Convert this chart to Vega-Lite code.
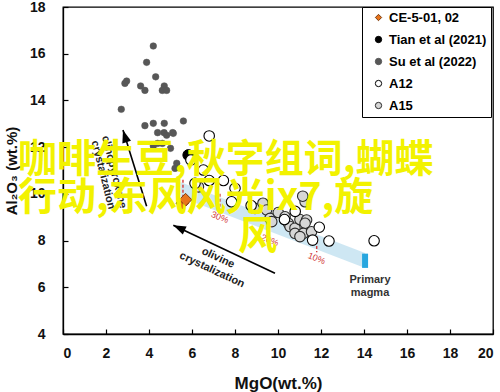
{
  "$schema": "https://vega.github.io/schema/vega-lite/v6.json",
  "width": 430,
  "height": 327,
  "autosize": {"type": "none"},
  "padding": {"left": 63, "top": 7, "right": 7, "bottom": 58},
  "background": "white",
  "config": {
    "view": {"stroke": "black", "strokeWidth": 1.3},
    "font": "Arial",
    "axis": {
      "domainColor": "black", "domainWidth": 1.3, "tickColor": "black", "tickSize": -5, "tickWidth": 1.2,
      "grid": false, "labelFont": "Arial", "labelFontSize": 14, "labelFontWeight": 700,
      "labelColor": "#111", "titleFont": "Arial", "titleFontWeight": 700, "titleColor": "#111"
    }
  },
  "datasets": {
    "pts": [
      {"series": "Su et al (2022)", "MgO": 4.2, "Al": 16.33},
      {"series": "Su et al (2022)", "MgO": 3.89, "Al": 15.63},
      {"series": "Su et al (2022)", "MgO": 4.31, "Al": 15.01},
      {"series": "Su et al (2022)", "MgO": 2.96, "Al": 14.83},
      {"series": "Su et al (2022)", "MgO": 2.88, "Al": 14.73},
      {"series": "Su et al (2022)", "MgO": 3.61, "Al": 14.62},
      {"series": "Su et al (2022)", "MgO": 3.81, "Al": 14.43},
      {"series": "Su et al (2022)", "MgO": 4.71, "Al": 14.62},
      {"series": "Su et al (2022)", "MgO": 4.62, "Al": 14.43},
      {"series": "Su et al (2022)", "MgO": 4.82, "Al": 14.43},
      {"series": "Su et al (2022)", "MgO": 2.71, "Al": 13.62},
      {"series": "Su et al (2022)", "MgO": 3.81, "Al": 12.92},
      {"series": "Su et al (2022)", "MgO": 4.2, "Al": 13.02},
      {"series": "Su et al (2022)", "MgO": 4.71, "Al": 13.02},
      {"series": "Su et al (2022)", "MgO": 5.6, "Al": 13.12},
      {"series": "Su et al (2022)", "MgO": 4.4, "Al": 12.62},
      {"series": "Su et al (2022)", "MgO": 4.7, "Al": 12.62},
      {"series": "Su et al (2022)", "MgO": 4.82, "Al": 12.51},
      {"series": "Su et al (2022)", "MgO": 5.1, "Al": 12.62},
      {"series": "Su et al (2022)", "MgO": 4.4, "Al": 12.16},
      {"series": "Su et al (2022)", "MgO": 4.62, "Al": 12.16},
      {"series": "Su et al (2022)", "MgO": 4.2, "Al": 12.05},
      {"series": "Su et al (2022)", "MgO": 5.13, "Al": 12.59},
      {"series": "Su et al (2022)", "MgO": 5.29, "Al": 11.31},
      {"series": "Su et al (2022)", "MgO": 5.21, "Al": 11.09},
      {"series": "Su et al (2022)", "MgO": 5.0, "Al": 11.95},
      {"series": "Tian et al (2021)", "MgO": 5.83, "Al": 11.66},
      {"series": "A12", "MgO": 6.8, "Al": 12.48},
      {"series": "A12", "MgO": 5.95, "Al": 11.45},
      {"series": "A12", "MgO": 6.53, "Al": 11.02},
      {"series": "A12", "MgO": 6.14, "Al": 10.45},
      {"series": "A12", "MgO": 6.8, "Al": 10.57},
      {"series": "A12", "MgO": 7.46, "Al": 10.57},
      {"series": "A12", "MgO": 8.0, "Al": 10.24},
      {"series": "A12", "MgO": 7.84, "Al": 9.66},
      {"series": "A12", "MgO": 8.75, "Al": 9.5},
      {"series": "A12", "MgO": 10.3, "Al": 8.9},
      {"series": "A12", "MgO": 11.92, "Al": 8.57},
      {"series": "A12", "MgO": 11.61, "Al": 8.02},
      {"series": "A12", "MgO": 12.37, "Al": 7.98},
      {"series": "A12", "MgO": 14.47, "Al": 7.99},
      {"series": "A12", "MgO": 10.8, "Al": 9.25},
      {"series": "A15", "MgO": 6.3, "Al": 10.3},
      {"series": "A15", "MgO": 8.93, "Al": 9.38},
      {"series": "A15", "MgO": 9.3, "Al": 9.6},
      {"series": "A15", "MgO": 9.47, "Al": 9.31},
      {"series": "A15", "MgO": 9.63, "Al": 8.95},
      {"series": "A15", "MgO": 9.71, "Al": 8.81},
      {"series": "A15", "MgO": 10.01, "Al": 9.2},
      {"series": "A15", "MgO": 10.33, "Al": 9.02},
      {"series": "A15", "MgO": 10.48, "Al": 8.74},
      {"series": "A15", "MgO": 10.56, "Al": 8.6},
      {"series": "A15", "MgO": 10.79, "Al": 8.53},
      {"series": "A15", "MgO": 11.02, "Al": 8.9},
      {"series": "A15", "MgO": 11.33, "Al": 8.88},
      {"series": "A15", "MgO": 11.26, "Al": 8.74},
      {"series": "A15", "MgO": 10.79, "Al": 8.31},
      {"series": "A15", "MgO": 11.18, "Al": 8.31},
      {"series": "A15", "MgO": 11.56, "Al": 8.38},
      {"series": "A15", "MgO": 11.02, "Al": 8.17},
      {"series": "A15", "MgO": 11.26, "Al": 9.66},
      {"series": "A15", "MgO": 11.15, "Al": 9.9},
      {"series": "CE-5-01, 02", "MgO": 5.55, "Al": 9.6},
      {"series": "CE-5-01, 02", "MgO": 5.7, "Al": 9.75}
    ],
    "band": [
      {"MgO": 5.3, "Al": 10.56, "Al2": 9.92},
      {"MgO": 14.05, "Al": 7.47, "Al2": 6.83}
    ],
    "magma": [{"MgO": 14.05, "Al": 7.44, "Al2": 6.83}],
    "dashes": [
      {"MgO": 5.58, "Al": 10.6, "Al2": 9.74},
      {"MgO": 7.3, "Al": 10.0, "Al2": 9.3},
      {"MgO": 9.55, "Al": 9.0, "Al2": 8.25},
      {"MgO": 11.8, "Al": 8.2, "Al2": 7.5}
    ],
    "pct": [
      {"t": "30%", "MgO": 7.3, "Al": 9.0},
      {"t": "20%", "MgO": 9.63, "Al": 8.02},
      {"t": "10%", "MgO": 11.8, "Al": 7.24}
    ],
    "arrows": [
      {"arrow": "cpx", "end": "tail", "MgO": 3.89, "Al": 9.47},
      {"arrow": "cpx", "end": "tip", "MgO": 2.79, "Al": 12.73},
      {"arrow": "ol", "end": "tail", "MgO": 9.86, "Al": 6.6},
      {"arrow": "ol", "end": "tip", "MgO": 5.13, "Al": 8.66}
    ],
    "cpxlab": [
      {"t": "clinopyroxene", "MgO": 2.37, "Al": 10.93},
      {"t": "crystalization", "MgO": 1.86, "Al": 10.81}
    ],
    "ollab": [
      {"t": "olivine", "MgO": 7.21, "Al": 7.25},
      {"t": "crystalization", "MgO": 6.93, "Al": 6.74}
    ],
    "pmlab": [
      {"t": "Primary", "MgO": 14.28, "Al": 6.31},
      {"t": "magma", "MgO": 14.28, "Al": 5.77}
    ],
    "cjk": [
      {"t": "咖啡生豆,秋字组词,蝴蝶", "MgO": -2.09, "Al": 11.45},
      {"t": "行动,东风风光ix7,旋", "MgO": -2.09, "Al": 9.82},
      {"t": "风", "MgO": 8.14, "Al": 8.15}
    ]
  },
  "encoding": {
    "x": {
      "field": "MgO", "type": "quantitative", "title": "MgO(wt.%)",
      "scale": {"domain": [0, 20], "nice": false, "zero": false},
      "axis": {"values": [0, 2, 4, 6, 8, 10, 12, 14, 16, 18, 20], "labelPadding": 17, "titleFontSize": 17, "titleX": 215, "titleY": 49, "titleBaseline": "middle"}
    },
    "y": {
      "field": "Al", "type": "quantitative", "title": "Al₂O₃ (wt.%)",
      "scale": {"domain": [4, 18], "nice": false, "zero": false},
      "axis": {"values": [4, 6, 8, 10, 12, 14, 16, 18], "labelPadding": 23, "titleFontSize": 15, "titleX": -52, "titleY": 163.5, "titleBaseline": "middle", "titleAngle": -90}
    }
  },
  "layer": [
    {
      "data": {"name": "band"},
      "mark": {"type": "area", "color": "#cbe6f2", "opacity": 0.95},
      "encoding": {"y2": {"field": "Al2"}}
    },
    {
      "data": {"name": "magma"},
      "mark": {"type": "rule", "color": "#27a6df", "strokeWidth": 6},
      "encoding": {"y2": {"field": "Al2"}}
    },
    {
      "data": {"name": "dashes"},
      "mark": {"type": "rule", "color": "#d23a3a", "strokeWidth": 1.4, "strokeDash": [3, 2]},
      "encoding": {"y2": {"field": "Al2"}}
    },
    {
      "data": {"name": "pct"},
      "mark": {"type": "text", "color": "#d23a3a", "fontSize": 9, "angle": 22, "align": "center", "baseline": "middle", "font": "Arial"},
      "encoding": {"text": {"field": "t"}}
    },
    {
      "data": {"name": "arrows"},
      "mark": {"type": "line", "color": "black", "strokeWidth": 1.6},
      "encoding": {"detail": {"field": "arrow"}}
    },
    {
      "data": {"name": "arrows"},
      "transform": [{"filter": "datum.arrow === 'cpx' && datum.end === 'tip'"}],
      "mark": {"type": "point", "shape": "M0,0L-1,2.8L1,2.8Z", "filled": true, "color": "black", "size": 81, "angle": 343, "opacity": 1}
    },
    {
      "data": {"name": "arrows"},
      "transform": [{"filter": "datum.arrow === 'ol' && datum.end === 'tip'"}],
      "mark": {"type": "point", "shape": "M0,0L-1,2.8L1,2.8Z", "filled": true, "color": "black", "size": 81, "angle": 295, "opacity": 1}
    },
    {
      "data": {"name": "cpxlab"},
      "mark": {"type": "text", "angle": 76, "fontSize": 11, "fontWeight": 700, "font": "Arial", "color": "#222", "align": "center", "baseline": "middle"},
      "encoding": {"text": {"field": "t"}}
    },
    {
      "data": {"name": "ollab"},
      "mark": {"type": "text", "angle": 25, "fontSize": 11, "fontWeight": 700, "font": "Arial", "color": "#222", "align": "center", "baseline": "middle"},
      "encoding": {"text": {"field": "t"}}
    },
    {
      "data": {"name": "pmlab"},
      "mark": {"type": "text", "fontSize": 11, "fontWeight": 700, "font": "Arial", "color": "#333", "align": "center", "baseline": "middle"},
      "encoding": {"text": {"field": "t"}}
    },
    {
      "data": {"name": "pts"},
      "encoding": {
        "fill": {
          "field": "series", "type": "nominal",
          "scale": {"domain": ["CE-5-01, 02", "Tian et al (2021)", "Su et al (2022)", "A12", "A15"], "range": ["#e8741c", "#000000", "#575757", "#ffffff", "#d6d6d6"]},
          "legend": {"title": null, "orient": "none", "legendX": 299, "legendY": 0, "strokeColor": "black", "fillColor": "white", "padding": 4, "symbolOffset": 6, "rowPadding": 8, "labelFont": "Arial", "labelFontSize": 13, "labelFontWeight": 700, "labelColor": "black", "symbolSize": 40, "labelOffset": 4, "symbolStrokeWidth": 1}
        },
        "shape": {
          "field": "series", "type": "nominal",
          "scale": {"domain": ["CE-5-01, 02", "Tian et al (2021)", "Su et al (2022)", "A12", "A15"], "range": ["diamond", "circle", "circle", "circle", "circle"]}
        },
        "stroke": {
          "field": "series", "type": "nominal",
          "scale": {"domain": ["CE-5-01, 02", "Tian et al (2021)", "Su et al (2022)", "A12", "A15"], "range": ["#7a3d12", "#000000", "#575757", "#000000", "#2a2a2a"]}
        }
      },
      "layer": [
        {"transform": [{"filter": "datum.series === 'Su et al (2022)'"}], "mark": {"type": "point", "filled": true, "size": 44, "opacity": 1, "strokeWidth": 0.5}},
        {"transform": [{"filter": "datum.series === 'Tian et al (2021)'"}], "mark": {"type": "point", "filled": true, "size": 120, "opacity": 1, "strokeWidth": 1}},
        {"transform": [{"filter": "datum.series === 'A15'"}], "mark": {"type": "point", "filled": true, "size": 110, "opacity": 1, "strokeWidth": 1.1}},
        {"transform": [{"filter": "datum.series === 'A12'"}], "mark": {"type": "point", "filled": true, "size": 110, "opacity": 1, "strokeWidth": 1.1}},
        {"transform": [{"filter": "datum.series === 'CE-5-01, 02'"}], "mark": {"type": "point", "filled": true, "size": 160, "opacity": 1, "strokeWidth": 1}}
      ]
    },
    {
      "data": {"name": "cjk"},
      "mark": {"type": "text", "font": "Noto Sans CJK SC", "fontSize": 39, "fontWeight": "bold", "color": "#f2f200", "align": "left", "baseline": "middle"},
      "encoding": {"text": {"field": "t"}}
    }
  ]
}
